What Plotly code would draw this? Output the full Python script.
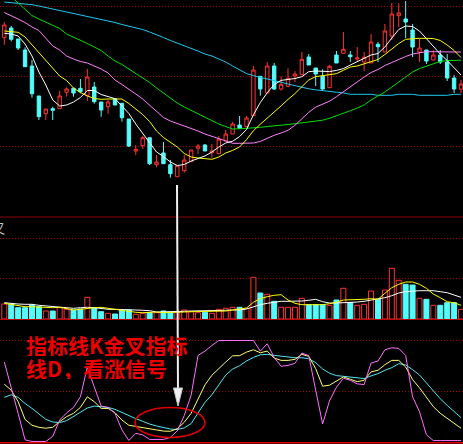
import plotly.graph_objects as go

W, H = 463, 444

# ---------------- price data ----------------
open_ = [18.23, 19.2, 18.1, 17.0, 15.4, 12.4, 10.63, 11.13, 11.13, 12.77,
         13.17, 13.17, 12.47, 13.3, 11.8, 11.33, 12.13, 11.67, 10.1, 6.9,
         7.43, 8.23, 5.53, 6.7, 5.53, 4.33, 4.93, 5.83, 7.17, 7.5,
         6.73, 6.63, 7.9, 8.6, 9.5, 9.33, 10.43, 14.37, 12.7, 15.4,
         13.1, 13.37, 14.4, 14.53, 16.3, 15.2, 14.37, 13.23, 16.5, 16.67,
         16.5, 16.1, 15.8, 15.7, 17.57, 16.8, 18.4, 20.43, 20.1, 19.0,
         16.8, 17.0, 16.0, 16.5, 15.8, 14.2, 13.1]
high = [19.8, 19.4, 18.1, 17.27, 16.0, 12.4, 11.1, 11.33, 12.93, 13.27,
        13.17, 14.1, 15.1, 13.8, 11.8, 12.0, 12.13, 11.67, 10.1, 7.5,
        8.43, 8.23, 6.5, 7.8, 6.0, 5.43, 6.5, 7.0, 7.6, 7.6,
        7.6, 8.4, 9.0, 9.83, 10.4, 10.4, 15.4, 14.37, 15.8, 15.7,
        14.37, 15.17, 14.9, 16.8, 16.6, 15.2, 15.07, 15.5, 16.9, 18.8,
        16.9, 17.3, 16.8, 18.6, 17.8, 19.6, 21.7, 21.7, 21.9, 19.6,
        18.1, 17.0, 17.0, 17.0, 16.6, 14.5, 14.0]
low = [17.53, 17.87, 17.0, 15.33, 12.23, 10.0, 10.0, 10.0, 11.13, 12.33,
       12.33, 12.67, 11.9, 11.63, 10.33, 10.63, 11.5, 9.83, 7.3, 6.5,
       7.1, 5.5, 5.27, 5.63, 4.23, 4.33, 4.73, 5.83, 6.6, 6.9,
       6.23, 6.63, 7.9, 8.6, 9.17, 9.33, 10.43, 12.43, 12.7, 13.0,
       12.93, 13.27, 13.8, 14.53, 15.5, 13.4, 12.93, 13.23, 15.7, 16.67,
       15.8, 15.8, 14.9, 15.7, 15.8, 16.8, 18.0, 19.3, 18.2, 16.3,
       15.8, 15.6, 16.0, 15.6, 13.9, 12.7, 12.7]
close = [19.5, 18.07, 17.2, 15.33, 12.63, 10.33, 11.1, 10.97, 12.4, 13.1,
         12.7, 12.83, 14.3, 11.83, 11.0, 11.8, 11.5, 10.23, 7.4, 7.05,
         8.23, 5.63, 5.8, 5.63, 4.63, 5.43, 6.0, 7.0, 7.4, 6.9,
         6.9, 8.1, 8.6, 9.6, 9.17, 10.2, 15.0, 13.1, 15.4, 13.1,
         13.57, 14.17, 14.6, 16.07, 15.5, 14.6, 13.1, 15.37, 15.7, 17.07,
         16.33, 16.2, 16.27, 17.8, 17.33, 18.9, 20.6, 20.7, 19.8, 17.3,
         17.2, 15.9, 16.5, 15.8, 14.2, 13.1, 13.6]

ma5 = [18.67, 18.6, 18.4, 17.6, 16.4, 14.8, 13.5, 12.0, 11.4, 11.5,
       11.8, 12.25, 12.95, 12.95, 12.55, 12.35, 12.13, 11.4, 10.65, 9.6,
       8.7, 7.8, 6.8, 6.35, 5.8, 5.45, 5.55, 5.9, 6.15, 6.4,
       6.8, 7.3, 7.7, 7.88, 8.34, 9.05, 10.52, 11.75, 12.73, 13.54,
       13.96, 14.04, 14.15, 14.33, 14.83, 14.9, 14.89, 14.84, 14.96, 15.14,
       15.5, 15.83, 16.15, 16.5, 16.65, 17.3, 18.2, 19.05, 19.4, 19.35,
       18.9, 18.1, 17.3, 16.6, 15.95, 15.25, 14.5]
ma10 = [18.9, 18.8, 18.77, 18.3, 17.5, 16.8, 16.0, 15.1, 14.4, 13.95,
        13.2, 12.75, 12.4, 12.15, 12.07, 12.1, 12.13, 12.1, 11.65, 11.1,
        10.55, 9.85, 8.9, 8.25, 7.75, 7.3, 6.65, 6.3, 6.2, 6.17,
        6.07, 6.3, 6.7, 6.96, 7.31, 8.03, 8.93, 9.58, 10.17, 10.74,
        11.41, 12.06, 12.64, 13.33, 14.0, 14.34, 14.42, 14.51, 14.63, 14.97,
        15.3, 15.4, 15.6, 15.8, 16.05, 16.55, 17.1, 17.65, 18.07, 18.15,
        18.17, 18.17, 18.15, 17.95, 17.5, 16.95, 16.25]
ma20 = [20.75, 20.45, 20.1, 19.75, 19.3, 18.95, 18.2, 17.4, 17.0, 16.4,
        16.1, 15.85, 15.7, 15.4, 15.1, 14.7, 14.0, 13.55, 13.1, 12.6,
        12.1, 11.5, 10.9, 10.25, 9.9, 9.65, 9.45, 9.2, 8.9, 8.6,
        8.35, 8.1, 7.9, 7.67, 7.67, 7.67, 7.7, 7.86, 8.17, 8.47,
        8.7, 8.97, 9.47, 10.16, 10.77, 11.29, 11.57, 11.88, 12.33, 12.84,
        13.3, 13.85, 14.3, 14.75, 15.05, 15.45, 15.75, 16.1, 16.35, 16.6,
        16.75, 16.83, 16.83, 16.8, 16.8, 16.8, 16.8]
ma30 = [22.8, 22.3, 21.7, 21.1, 20.45, 20.1, 19.8, 19.5, 19.15, 18.6,
        18.3, 18.0, 17.65, 17.3, 16.95, 16.4, 15.9, 15.55, 15.1, 14.7,
        14.2, 13.75, 13.2, 12.7, 12.2, 11.7, 11.3, 10.95, 10.6, 10.3,
        9.9, 9.6, 9.35, 9.1, 9.12, 9.15, 9.2, 9.27, 9.35, 9.4,
        9.45, 9.55, 9.63, 9.72, 9.82, 9.91, 9.98, 10.17, 10.41, 10.63,
        10.93, 11.2, 11.5, 12.0, 12.4, 12.8, 13.3, 13.8, 14.3, 14.8,
        15.15, 15.4, 15.65, 15.85, 15.95, 15.97, 15.97]
ma60 = [21.8, 21.75, 21.68, 21.6, 21.53, 21.4, 21.25, 21.15, 21.0, 20.85,
        20.7, 20.57, 20.4, 20.25, 20.12, 19.95, 19.75, 19.55, 19.4, 19.25,
        19.05, 18.8, 18.55, 18.25, 17.95, 17.7, 17.45, 17.2, 16.9, 16.6,
        16.4, 16.1, 15.8, 15.4, 15.0, 14.65, 14.43, 14.28, 14.11, 13.94,
        13.77, 13.6, 13.42, 13.25, 13.12, 13.02, 12.92, 12.85, 12.78, 12.72,
        12.57, 12.57, 12.57, 12.57, 12.47, 12.47, 12.47, 12.57, 12.57, 12.57,
        12.47, 12.47, 12.47, 12.47, 12.47, 12.57, 12.57]

# ---------------- volume (thousand lots) ----------------
vol = [15, 15, 11.3, 11.3, 14, 12.3, 8, 8, 11.3, 9.7,
       9, 10, 21.7, 11.3, 7.3, 5.7, 5, 9, 9, 4.7,
       5.7, 6.3, 6.3, 8, 6.7, 7.3, 9, 7.3, 6.3, 6.7,
       5.7, 9.7, 10.7, 11.7, 11.7, 10.7, 41.7, 26, 24.7, 17.7,
       11.7, 11.7, 11.7, 20.7, 14.3, 14.3, 14.3, 13.7, 19, 30.7,
       16.3, 13.7, 14.7, 28, 19.7, 29, 50.7, 38.7, 34.7, 34,
       20.7, 19.7, 13.7, 13.7, 16.3, 16.3, 9.7]
vol_ma5 = [15.7, 14.7, 13.3, 12.3, 12.3, 12, 11.3, 11.3, 11.7, 10.7,
           9, 9.7, 10.7, 11.3, 11.7, 10.7, 9.7, 8.7, 7, 6.7,
           6.3, 6.7, 7, 6.3, 6.3, 6.7, 7, 7.3, 7.3, 7.3,
           7.3, 7.3, 8, 9, 9.7, 11, 16.7, 20.3, 22.3, 23.7,
           24.3, 19, 15.7, 14.3, 14.3, 14.3, 14.3, 15.3, 16.7, 19,
           19, 19, 19.7, 20.3, 19.7, 25.7, 31.3, 34.7, 37, 37,
           34.7, 30.7, 25, 21.3, 17.3, 16.3, 13.7]
vol_ma10 = [16.3, 15.3, 15, 14.7, 14.7, 13.7, 13, 12.3, 11.7, 10.7,
            10.7, 11.3, 11.7, 11.3, 10.3, 9.7, 9.7, 9.7, 9, 9,
            8.7, 8.3, 7, 7, 7.3, 7.3, 7.7, 8, 8, 8,
            8, 8.3, 8.7, 9, 9, 10, 12.3, 14.3, 15.7, 17,
            17.7, 17.7, 17.7, 18, 18.7, 19.7, 17.3, 16, 16, 16.3,
            16.3, 17, 17.7, 18.7, 19.7, 21.3, 23.3, 26, 27.3, 28,
            28.3, 28.3, 28.3, 27.3, 26.3, 24, 21.7]

# ---------------- KDJ ----------------
kdj_k = [57.1, 51.3, 40, 22.7, 16.9, 14.9, 14, 14.9, 20.5, 25.3,
         28.6, 34.4, 44.8, 40, 33.4, 33.4, 29.2, 22, 16.9, 15.6,
         14.6, 13.5, 12.3, 11.2, 11, 13.6, 19.8, 28.6, 43.2, 56.5,
         65.9, 72.7, 78.9, 85, 85.1, 88.6, 90.9, 88, 89.6, 82.8,
         80.5, 80.5, 81.5, 86.4, 84.4, 72.4, 55.2, 56.2, 60.1, 64.3,
         62, 59.7, 61, 69.2, 70.8, 76.3, 80.5, 80.5, 74, 61.7,
         53.6, 44.2, 35.1, 28.6, 23.7, 18.2, 14]
kdj_d = [44.2, 46.8, 44.2, 38.3, 33.4, 27.6, 22.7, 20.1, 19.5, 21.4,
         25.3, 29.5, 33.8, 35.7, 35.1, 34.4, 32.5, 29.2, 26, 23.4,
         20.8, 18.1, 16.2, 14.9, 13.2, 12.7, 14.3, 18.5, 28.6, 39.3,
         46.8, 56.5, 66.1, 72, 75.3, 79.9, 83.4, 86, 86.4, 85.4,
         84.4, 83.8, 83.1, 83.1, 82.1, 78.3, 72.1, 67.9, 65.6, 64.9,
         64.3, 63.6, 62.7, 65.3, 67.5, 70.8, 73.4, 77.3, 76, 71.4,
         66.2, 58.4, 50.7, 42.9, 36.4, 30.2, 24.4]
kdj_j = [79, 54.5, 28.6, 2.6, 1, 1, 1, 6, 22, 29,
         34.4, 44.8, 74, 54.5, 35.7, 34.4, 28.6, 12.3, 2, 9,
         7.5, 3, 3, 3, 5, 11.4, 26.3, 46.4, 85.4, 89.6,
         95.1, 100, 100, 100, 100, 100, 100, 89.6, 96.8, 83.4,
         74.7, 75.6, 77.6, 87.7, 85.1, 51.3, 18.2, 40.9, 54.2, 63,
         61, 57.5, 56.8, 77.9, 79.9, 90.9, 92.9, 92.2, 85.4, 44.8,
         30.2, 7.5, 1.9, 1.9, 1.9, 1.9, 1.9]

note_line1 = "指标线K金叉指标"
note_line2 = "线D，看涨信号"
panel_label = "叉"

# ---------------- styling ----------------
RED = "#ff3232"
CYAN = "#54fcfc"
GRID = "#a00000"

n = len(close)
idx = list(range(n))
up = [c >= o for o, c in zip(open_, close)]


def px(x):
    return x / W


def py(y):
    return 1 - y / H


fig = go.Figure()

fig.add_trace(go.Candlestick(
    x=idx, open=open_, high=high, low=low, close=close,
    increasing=dict(line=dict(color=RED, width=1), fillcolor="black"),
    decreasing=dict(line=dict(color=CYAN, width=1), fillcolor=CYAN),
    whiskerwidth=0, xaxis="x", yaxis="y", hoverinfo="skip", showlegend=False))

for vals, col in [(ma60, "#1ec8f0"), (ma30, "#00e000"), (ma20, "#ff80ff"),
                  (ma10, "#ffff00"), (ma5, "#ffffff")]:
    fig.add_trace(go.Scatter(x=idx, y=vals, mode="lines",
                             line=dict(color=col, width=1),
                             xaxis="x", yaxis="y", hoverinfo="skip",
                             showlegend=False))

fig.add_trace(go.Bar(
    x=idx, y=vol, width=0.72,
    marker=dict(color=["black" if u else CYAN for u in up],
                line=dict(color=[RED if u else CYAN for u in up], width=1)),
    xaxis="x", yaxis="y2", hoverinfo="skip", showlegend=False))
for vals, col in [(vol_ma10, "#ffffff"), (vol_ma5, "#ffff00")]:
    fig.add_trace(go.Scatter(x=idx, y=vals, mode="lines",
                             line=dict(color=col, width=1),
                             xaxis="x", yaxis="y2", hoverinfo="skip",
                             showlegend=False))

for vals, col in [(kdj_d, "#50e8f0"), (kdj_k, "#ffff70"), (kdj_j, "#ff70ff")]:
    fig.add_trace(go.Scatter(x=idx, y=vals, mode="lines",
                             line=dict(color=col, width=1),
                             xaxis="x", yaxis="y3", hoverinfo="skip",
                             showlegend=False))

ycommon = dict(showticklabels=False, zeroline=False, showline=False,
               showgrid=True, gridcolor=GRID, gridwidth=1, griddash="1px,2px",
               fixedrange=True)

shapes = [
    dict(type="line", xref="paper", yref="paper", x0=0, x1=1,
         y0=py(217), y1=py(217), line=dict(color="#8a0000", width=1)),
    dict(type="line", xref="paper", yref="paper", x0=0, x1=1,
         y0=py(319.5), y1=py(319.5), line=dict(color="#c00000", width=1)),
    dict(type="line", xref="paper", yref="paper", x0=0, x1=1,
         y0=py(442.8), y1=py(442.8), line=dict(color="#e00000", width=1.6)),
    # arrow shaft
    dict(type="line", xref="paper", yref="paper",
         x0=px(177), y0=py(185), x1=px(178), y1=py(392),
         line=dict(color="#f0f0f0", width=2)),
    # arrow head
    dict(type="path", xref="paper", yref="paper",
         path=f"M {px(173.5)} {py(388)} L {px(182.5)} {py(388)} L {px(178)} {py(406)} Z",
         fillcolor="#f0f0f0", line=dict(color="#c8c8c8", width=1)),
    # ellipse
    dict(type="circle", xref="paper", yref="paper",
         x0=px(135), x1=px(205), y0=py(437.5), y1=py(407.5),
         line=dict(color="#e00000", width=1.6)),
]

annotations = [
    dict(text=note_line1, xref="paper", yref="paper", x=px(24), y=py(345),
         xanchor="left", yanchor="middle", showarrow=False, height=22,
         font=dict(family="Noto Sans CJK SC", size=21, color="#ec0000",
                   weight="bold")),
    dict(text=note_line2, xref="paper", yref="paper", x=px(24), y=py(367.5),
         xanchor="left", yanchor="middle", showarrow=False, height=22,
         font=dict(family="Noto Sans CJK SC", size=21, color="#ec0000",
                   weight="bold")),
    dict(text=panel_label, xref="paper", yref="paper", x=px(7), y=py(227),
         xanchor="right", yanchor="middle", showarrow=False,
         font=dict(family="Noto Sans CJK SC", size=13, color="#c8c8c8")),
]

fig.update_layout(
    width=W, height=H, autosize=False,
    margin=dict(l=0, r=0, t=0, b=0, pad=0),
    paper_bgcolor="black", plot_bgcolor="black",
    showlegend=False, hovermode=False, barmode="overlay",
    xaxis=dict(range=[-0.621, 66.286], showgrid=False, zeroline=False,
               showticklabels=False, showline=False, fixedrange=True,
               rangeslider=dict(visible=False)),
    yaxis=dict(domain=[1 - 217 / H, 1], range=[0.3, 22],
               tickvals=[7.4, 14.4, 21.4], **ycommon),
    yaxis2=dict(domain=[1 - 319 / H, 1 - 218 / H], range=[0, 101],
                tickvals=[41, 81], **ycommon),
    yaxis3=dict(domain=[0, 1 - 321 / H], range=[-1.47, 119.12],
                tickvals=[50, 100], **ycommon),
    shapes=shapes, annotations=annotations,
)

fig.write_html(
    "out.html",
    config={"displayModeBar": False, "staticPlot": True},
    post_script="document.body.style.margin='0';"
                "document.body.style.padding='0';"
                "document.body.style.overflow='hidden';"
                "document.body.style.background='black';",
)
